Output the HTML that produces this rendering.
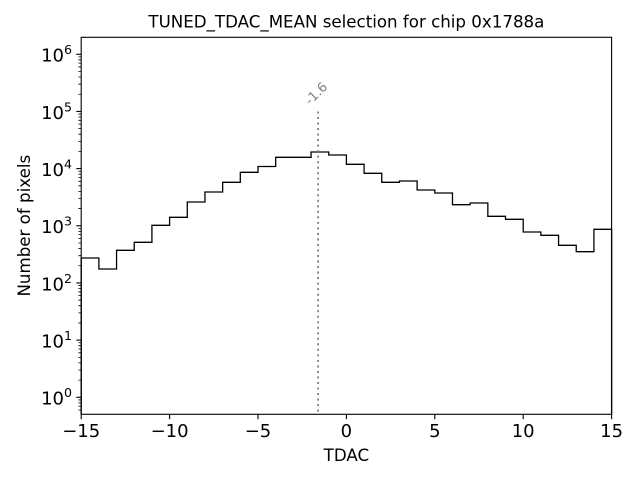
<!DOCTYPE html>
<html>
<head>
<meta charset="utf-8">
<style>
html,body{margin:0;padding:0;background:#fff;}
svg{display:block;}
text{font-family:"DejaVu Sans","Liberation Sans",sans-serif;fill:#000;}
</style>
</head>
<body>
<svg width="640" height="480" viewBox="0 0 640 480" xmlns="http://www.w3.org/2000/svg">
<rect x="0" y="0" width="640" height="480" fill="#fff"/>

<!-- title -->
<text x="346.4" y="27.5" font-size="16.67" text-anchor="middle">TUNED_TDAC_MEAN selection for chip 0x1788a</text>

<!-- histogram step -->
<path d="M81.2 414.3 V258 H98.88 V269 H116.56 V250.3 H134.24 V242.3 H151.92 V225.3 H169.6 V217.3 H187.28 V202 H204.96 V192 H222.64 V182.3 H240.32 V172.3 H258 V166.5 H275.68 V157.3 H311.04 V152 H328.72 V155 H346.4 V164.3 H364.08 V173.3 H381.76 V182.3 H399.44 V181 H417.12 V190 H434.8 V193 H452.48 V204.7 H470.16 V203 H487.84 V216.3 H505.52 V219.3 H523.2 V232 H540.88 V235.3 H558.56 V245.3 H576.24 V251.7 H593.92 V229.3 H611.6 V414.3" fill="none" stroke="#000" stroke-width="1.3" stroke-linejoin="miter"/>

<!-- dotted mean line -->
<line x1="318.1" y1="111.45" x2="318.1" y2="414.3" stroke="#808080" stroke-width="1.8" stroke-dasharray="2.08 3.44"/>
<text x="310.3" y="105.6" font-size="13" fill="#808080" style="fill:#808080" transform="rotate(-45 310.3 105.6)">-1.6</text>

<!-- axes frame -->
<rect x="81.2" y="37.3" width="530.4" height="377" fill="none" stroke="#000" stroke-width="1.1"/>

<!-- x ticks -->
<g stroke="#000" stroke-width="1.1">
<line x1="81.2" y1="414.3" x2="81.2" y2="419.2"/>
<line x1="169.6" y1="414.3" x2="169.6" y2="419.2"/>
<line x1="258" y1="414.3" x2="258" y2="419.2"/>
<line x1="346.4" y1="414.3" x2="346.4" y2="419.2"/>
<line x1="434.8" y1="414.3" x2="434.8" y2="419.2"/>
<line x1="523.2" y1="414.3" x2="523.2" y2="419.2"/>
<line x1="611.6" y1="414.3" x2="611.6" y2="419.2"/>
</g>
<g font-size="18" text-anchor="middle">
<text x="81.2" y="437">−15</text>
<text x="169.6" y="437">−10</text>
<text x="258" y="437">−5</text>
<text x="346.4" y="437">0</text>
<text x="434.8" y="437">5</text>
<text x="523.2" y="437">10</text>
<text x="611.6" y="437">15</text>
</g>
<text x="346.4" y="461" font-size="16.67" text-anchor="middle">TDAC</text>

<!-- y major ticks -->
<g stroke="#000" stroke-width="1.1">
<line x1="76.3" y1="54.28" x2="81.2" y2="54.28"/>
<line x1="76.3" y1="111.45" x2="81.2" y2="111.45"/>
<line x1="76.3" y1="168.62" x2="81.2" y2="168.62"/>
<line x1="76.3" y1="225.79" x2="81.2" y2="225.79"/>
<line x1="76.3" y1="282.96" x2="81.2" y2="282.96"/>
<line x1="76.3" y1="340.13" x2="81.2" y2="340.13"/>
<line x1="76.3" y1="397.3" x2="81.2" y2="397.3"/>
</g>
<!-- y minor ticks -->
<path stroke="#000" stroke-width="0.8" fill="none" d="
M78.4 410.0H81.2 M78.4 406.16H81.2 M78.4 402.84H81.2 M78.4 399.92H81.2
M78.4 380.09H81.2 M78.4 370.02H81.2 M78.4 362.88H81.2 M78.4 357.34H81.2 M78.4 352.81H81.2 M78.4 348.99H81.2 M78.4 345.67H81.2 M78.4 342.75H81.2
M78.4 322.92H81.2 M78.4 312.85H81.2 M78.4 305.71H81.2 M78.4 300.17H81.2 M78.4 295.64H81.2 M78.4 291.82H81.2 M78.4 288.50H81.2 M78.4 285.58H81.2
M78.4 265.75H81.2 M78.4 255.68H81.2 M78.4 248.54H81.2 M78.4 243.00H81.2 M78.4 238.47H81.2 M78.4 234.65H81.2 M78.4 231.33H81.2 M78.4 228.41H81.2
M78.4 208.58H81.2 M78.4 198.51H81.2 M78.4 191.37H81.2 M78.4 185.83H81.2 M78.4 181.30H81.2 M78.4 177.48H81.2 M78.4 174.16H81.2 M78.4 171.24H81.2
M78.4 151.41H81.2 M78.4 141.34H81.2 M78.4 134.20H81.2 M78.4 128.66H81.2 M78.4 124.13H81.2 M78.4 120.31H81.2 M78.4 116.99H81.2 M78.4 114.07H81.2
M78.4 94.24H81.2 M78.4 84.17H81.2 M78.4 77.03H81.2 M78.4 71.49H81.2 M78.4 66.96H81.2 M78.4 63.14H81.2 M78.4 59.82H81.2 M78.4 56.90H81.2
"/>
<g font-size="18" text-anchor="end">
<text x="72" y="61.7">10<tspan font-size="12.6" dy="-7.5">6</tspan></text>
<text x="72" y="118.85">10<tspan font-size="12.6" dy="-7.5">5</tspan></text>
<text x="72" y="176.0">10<tspan font-size="12.6" dy="-7.5">4</tspan></text>
<text x="72" y="233.2">10<tspan font-size="12.6" dy="-7.5">3</tspan></text>
<text x="72" y="290.4">10<tspan font-size="12.6" dy="-7.5">2</tspan></text>
<text x="72" y="347.5">10<tspan font-size="12.6" dy="-7.5">1</tspan></text>
<text x="72" y="404.5">10<tspan font-size="12.6" dy="-7.5">0</tspan></text>
</g>
<text x="30" y="225.7" font-size="16.67" text-anchor="middle" transform="rotate(-90 30 225.7)">Number of pixels</text>
</svg>
</body>
</html>
